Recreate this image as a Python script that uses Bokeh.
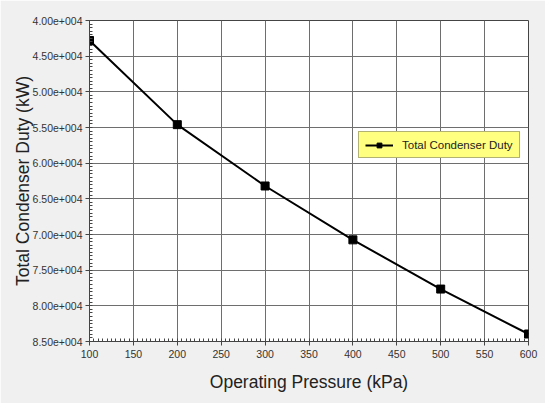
from bokeh.plotting import figure
from bokeh.models import Range1d, SingleIntervalTicker, CustomJSTickFormatter, Legend, LegendItem
from bokeh.embed import file_html
from bokeh.resources import INLINE

pressure = [100, 200, 300, 400, 500, 600]
duty = [42800, 54600, 63200, 70750, 77650, 83950]

x_ticks_interval = 50
y_ticks_interval = 5000

p = figure(width=545, height=403, output_backend="svg", toolbar_location=None,
           x_range=Range1d(100, 600), y_range=Range1d(85000, 40000),
           min_border_left=89, min_border_right=17, min_border_top=20, min_border_bottom=62)
p.background_fill_color = "white"
p.border_fill_color = "#f0f0f0"
p.outline_line_color = "#444444"

r_line = p.line(pressure, duty, line_color="black", line_width=2)
r_pts = p.scatter(pressure, duty, marker="square", size=8, fill_color="black", line_color="black")

p.xaxis.ticker = SingleIntervalTicker(interval=x_ticks_interval, num_minor_ticks=10)
p.yaxis.ticker = SingleIntervalTicker(interval=y_ticks_interval, num_minor_ticks=10)
p.yaxis.formatter = CustomJSTickFormatter(code="""
const s = tick.toExponential(2);
const parts = s.split('e');
const sign = parts[1][0];
const d = parts[1].slice(1).padStart(3, '0');
return parts[0] + 'e' + sign + d;
""")

for ax in (p.xaxis, p.yaxis):
    ax.axis_line_color = "#444444"
    ax.major_tick_line_color = "#444444"
    ax.minor_tick_line_color = "#444444"
    ax.major_tick_out = 4
    ax.major_tick_in = 0
    ax.minor_tick_out = 0
    ax.minor_tick_in = 3
    ax.major_label_text_font = "Liberation Sans"
    ax.major_label_text_font_size = "10.5px"
    ax.major_label_text_color = "#333333"
    ax.axis_label_text_font = "Liberation Sans"
    ax.axis_label_text_font_size = "17.5px"
    ax.axis_label_text_font_style = "normal"
    ax.axis_label_text_color = "#222222"

p.xaxis.axis_label = "Operating Pressure (kPa)"
p.yaxis.axis_label = "Total Condenser Duty (kW)"
p.xaxis.major_label_standoff = 4
p.xaxis.axis_label_standoff = 11
p.yaxis.major_label_standoff = 3
p.yaxis.axis_label_standoff = -3

p.xgrid.grid_line_color = "#6e6e6e"
p.ygrid.grid_line_color = "#6e6e6e"
p.xgrid.grid_line_width = 1
p.ygrid.grid_line_width = 1

legend = Legend(items=[LegendItem(label="Total Condenser Duty", renderers=[r_line, r_pts])],
                location=(269, 183))
legend.background_fill_color = "#ffff80"
legend.background_fill_alpha = 1
legend.border_line_color = "#666666"
legend.label_text_font = "Liberation Sans"
legend.label_text_font_size = "11.5px"
legend.label_text_color = "#222222"
legend.glyph_width = 28
legend.glyph_height = 12
legend.padding = 6
legend.spacing = 0
legend.margin = 0
legend.label_standoff = 9
legend.label_height = 13
p.add_layout(legend, "center")

open("out.html", "w").write(file_html(p, INLINE))
